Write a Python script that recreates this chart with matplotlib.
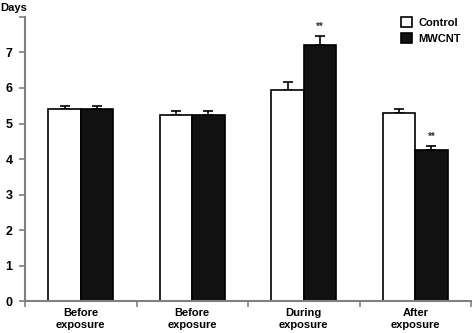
import matplotlib
matplotlib.use("Agg")
import matplotlib.pyplot as plt
import numpy as np

plt.rcParams['font.family'] = ['Liberation Sans', 'DejaVu Sans']

# dati
categorie = ["Before\nexposure", "Before\nexposure", "During\nexposure", "After\nexposure"]
control = [5.40, 5.25, 5.93, 5.30]
control_err = [0.09, 0.09, 0.25, 0.12]
mwcnt = [5.40, 5.25, 7.22, 4.25]
mwcnt_err = [0.09, 0.09, 0.24, 0.12]
signif = ["", "", "**", "**"]

fig = plt.figure(figsize=(4.72, 3.33), dpi=100)
ax = fig.add_axes([0.053, 0.096, 0.945, 0.853])

x = np.arange(len(categorie))
w = 0.29
grigio = "#808080"

ax.bar(x - w/2, control, w, color="white", edgecolor="black", linewidth=1.2,
       label="Control", zorder=2)
ax.bar(x + w/2, mwcnt, w, color="#111111", edgecolor="black", linewidth=1.2,
       label="MWCNT", zorder=2)
ax.errorbar(x - w/2, control, yerr=[np.zeros(4), control_err], fmt="none",
            ecolor="black", elinewidth=1.2, capsize=3.5, capthick=1.2, zorder=1)
ax.errorbar(x + w/2, mwcnt, yerr=[np.zeros(4), mwcnt_err], fmt="none",
            ecolor="black", elinewidth=1.2, capsize=3.5, capthick=1.2, zorder=1)

for i, s in enumerate(signif):
    if s:
        ax.text(x[i] + w/2, mwcnt[i] + mwcnt_err[i] + 0.12, s, ha="center",
                va="bottom", fontsize=7, fontweight="bold", color="#333333")

# assi
ax.set_xlim(-0.5, 3.5)
ax.set_ylim(0, 8)
ax.set_yticks(range(0, 9))
ax.set_yticklabels([str(i) for i in range(8)] + [""])
ax.set_xticks(np.arange(-0.5, 4, 1))
ax.set_xticklabels([])
ax.set_xticks(x, minor=True)
ax.set_xticklabels(categorie, minor=True, fontsize=8, fontweight="bold",
                   linespacing=1.3)
ax.tick_params(axis="x", which="minor", length=0, pad=5)
ax.tick_params(axis="x", which="major", length=4, color=grigio, width=1.2)
ax.tick_params(axis="y", length=4, color=grigio, width=1.2, labelsize=9, pad=5)
for t in ax.get_yticklabels():
    t.set_fontweight("bold")

for lato in ["top", "right"]:
    ax.spines[lato].set_visible(False)
for lato in ["left", "bottom"]:
    ax.spines[lato].set_color(grigio)
    ax.spines[lato].set_linewidth(1.5)

fig.text(0.0, 0.99, "Days", fontsize=8, fontweight="bold", va="top")

ax.legend(loc="upper right", bbox_to_anchor=(1.0, 1.035), frameon=False,
          prop={"weight": "bold", "size": 8},
          handlelength=1.0, handleheight=1.0, handletextpad=0.6, labelspacing=0.5)

fig.savefig("out.png", dpi=100)
